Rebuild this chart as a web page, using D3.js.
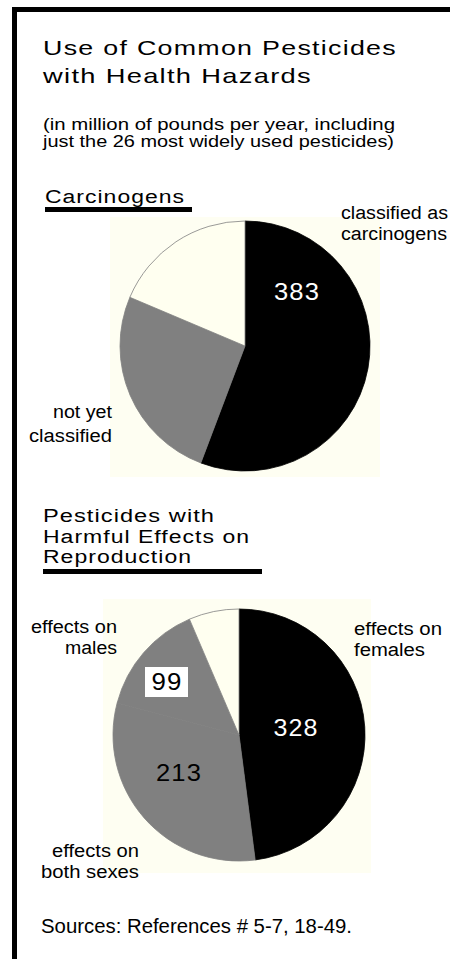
<!DOCTYPE html>
<html>
<head>
<meta charset="utf-8">
<script src="https://cdn.jsdelivr.net/npm/d3@7"></script>
<style>
  body { margin: 0; background: #fff; }
  svg text { font-family: "Liberation Sans", Arial, Helvetica, sans-serif; }
</style>
</head>
<body>
<div id="chart"></div>
<script>
// Use of Common Pesticides with Health Hazards - two pies

// carcinogens pie (million lbs / year)
const carcCategories = ["classified as carcinogens", "not yet classified", "other"];
const carcValues = [383, 176, 128];
const carcColors = ["#000000", "#808080", "#fffff0"];

// reproduction pie, both gray slices are "effects on males" and "effects on both sexes"
const reproCategories = ["effects on females", "effects on both sexes", "effects on males", "other"];
const reproValues = [328, 213, 99, 44];
const reproColors = ["#000000", "#808080", "#808080", "#fffff0"];

const titleLines = ["Use of Common Pesticides", "with Health Hazards"];
const subtitleLines = ["(in million of pounds per year, including", "just the 26 most widely used pesticides)"];
const section2Lines = ["Pesticides with", "Harmful Effects on", "Reproduction"];

(function () {
    const width = 450, height = 959;

    const svg = d3.select("#chart")
        .append("svg")
        .attr("width", width)
        .attr("height", height);

    // frame: top and left black bars
    svg.append("rect").attr("x", 12).attr("y", 7).attr("width", width - 12).attr("height", 5).attr("fill", "#000");
    svg.append("rect").attr("x", 12).attr("y", 7).attr("width", 5).attr("height", height - 7).attr("fill", "#000");

    // text helper: anchor handled by hand so textLength stretches from the left edge
    function label(x, y, str, size, len, opts) {
        opts = opts || {};
        let left = x;
        if (opts.anchor === "end") left = x - len;
        if (opts.anchor === "middle") left = x - len / 2;
        return svg.append("text")
            .attr("x", left)
            .attr("y", y)
            .attr("font-size", size + "px")
            .attr("letter-spacing", (opts.ls || 0) + "px")
            .attr("textLength", len)
            .attr("lengthAdjust", "spacingAndGlyphs")
            .attr("fill", opts.fill || "#000")
            .text(str);
    }

    // title
    label(43, 55, titleLines[0], 21, 354, { ls: 1 });
    label(43, 83, titleLines[1], 21, 269, { ls: 1 });

    // subtitle
    label(43, 130, subtitleLines[0], 16.5, 352);
    label(43, 147, subtitleLines[1], 16.5, 351);

    // section headings + underline bars
    label(45, 203, "Carcinogens", 18, 140, { ls: 0.8 });
    svg.append("rect").attr("x", 45).attr("y", 207).attr("width", 147).attr("height", 5).attr("fill", "#000");

    label(43, 522, section2Lines[0], 18, 172, { ls: 0.8 });
    label(43, 543, section2Lines[1], 18, 207, { ls: 0.8 });
    label(43, 563, section2Lines[2], 18, 149, { ls: 0.8 });
    svg.append("rect").attr("x", 43).attr("y", 569).attr("width", 219).attr("height", 5).attr("fill", "#000");

    // pie helper
    function drawPie(values, colors, cx, cy, r, bg) {
        svg.append("rect")
            .attr("x", bg[0]).attr("y", bg[1])
            .attr("width", bg[2]).attr("height", bg[3])
            .attr("fill", "#fefef2");

        const pie = d3.pie().sort(null).value(d => d)(values);
        const arc = d3.arc().innerRadius(0).outerRadius(r);

        const g = svg.append("g").attr("transform", "translate(" + cx + "," + cy + ")");
        g.selectAll("path")
            .data(pie)
            .enter()
            .append("path")
            .attr("d", arc)
            .attr("fill", (d, i) => colors[i])
            .attr("stroke", (d, i) => colors[i] === "#fffff0" ? "#808080" : colors[i])
            .attr("stroke-width", 0.8);
    }

    drawPie(carcValues, carcColors, 245, 346, 125, [110, 217, 270, 260]);
    drawPie(reproValues, reproColors, 239, 735, 126, [103, 599, 268, 274]);

    // carcinogens labels
    label(341, 219, "classified as", 18, 107);
    label(341, 240, "carcinogens", 18, 106);
    label(112, 418, "not yet", 18, 59, { anchor: "end" });
    label(112, 442, "classified", 18, 83, { anchor: "end" });
    label(297, 300, carcValues[0], 23, 46, { anchor: "middle", fill: "#fff", ls: 1 });

    // reproduction labels
    label(117, 633, "effects on", 18, 86, { anchor: "end" });
    label(117, 654, "males", 18, 52, { anchor: "end" });
    label(354, 635, "effects on", 18, 88);
    label(354, 656, "females", 18, 71);
    label(139, 857, "effects on", 18, 87, { anchor: "end" });
    label(139, 878, "both sexes", 18, 98, { anchor: "end" });

    svg.append("rect").attr("x", 145).attr("y", 667).attr("width", 43).attr("height", 30).attr("fill", "#fff");
    label(167, 690, reproValues[2], 23, 31, { anchor: "middle", ls: 1 });
    label(296, 736, reproValues[0], 23, 45, { anchor: "middle", fill: "#fff", ls: 1 });
    label(179, 781, reproValues[1], 23, 46, { anchor: "middle", ls: 1 });

    // source note
    label(41, 933, "Sources: References # 5-7, 18-49.", 20, 311);
})();
</script>
</body>
</html>
